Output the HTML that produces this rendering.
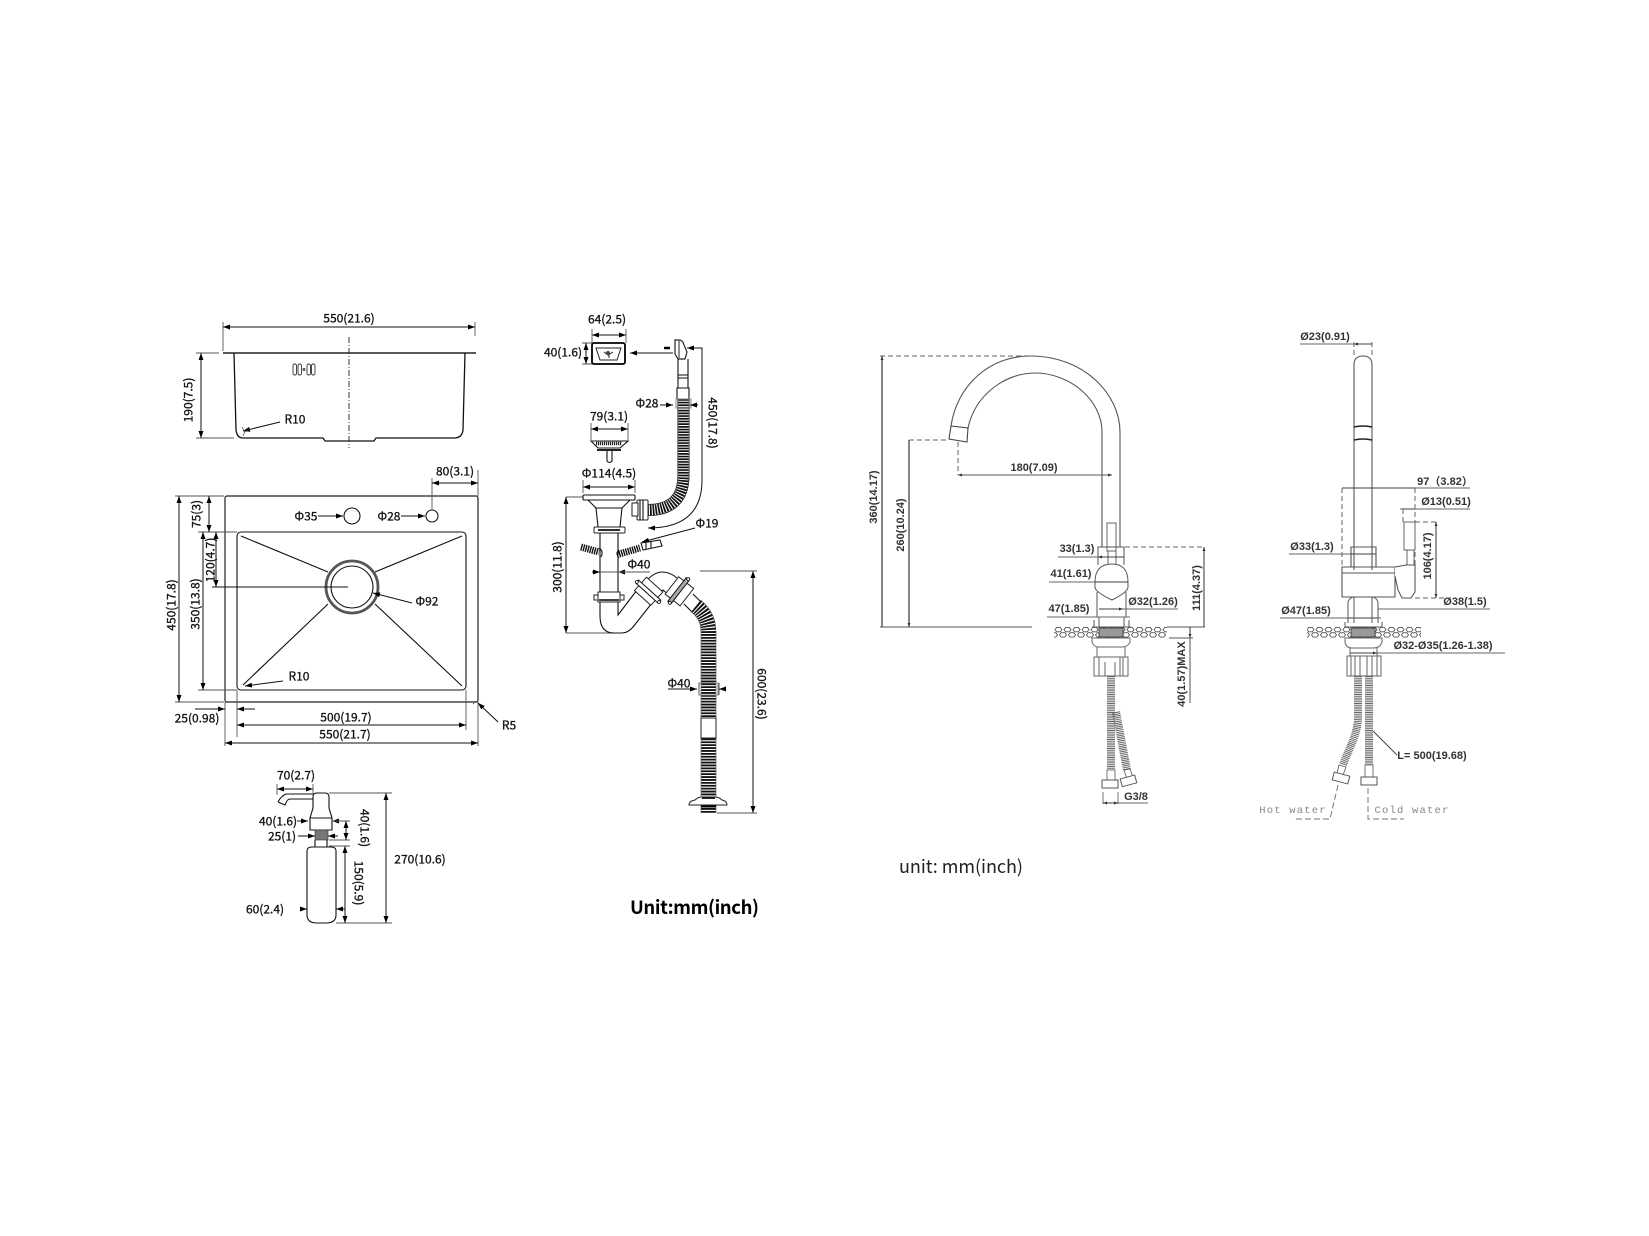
<!DOCTYPE html>
<html><head><meta charset="utf-8"><title>Sink and faucet dimensions</title>
<style>
html,body{margin:0;padding:0;background:#fff}
svg{display:block;filter:blur(.35px)}
.a text{font-family:"Noto Sans CJK SC","Liberation Sans",sans-serif;font-size:12px;fill:#111;stroke:#111;stroke-width:.3;dominant-baseline:central;text-anchor:middle}
.b text{font-family:"Liberation Sans","Noto Sans CJK SC",sans-serif;font-size:11px;font-weight:bold;fill:#333;dominant-baseline:central;text-anchor:middle}
.k{fill:none;stroke:#111;stroke-width:1.1}
.g{fill:none;stroke:#555;stroke-width:.9}
.d{fill:none;stroke:#111;stroke-width:1;marker-start:url(#ar);marker-end:url(#ar)}
.e{fill:none;stroke:#111;stroke-width:1;marker-end:url(#ar)}
.f{fill:none;stroke:#555;stroke-width:1}
.da{fill:none;stroke:#666;stroke-width:1;stroke-dasharray:5 3}
.w{fill:#fff;stroke:#222;stroke-width:1}
</style></head><body>
<svg width="1649" height="1236" viewBox="0 0 1649 1236" xmlns="http://www.w3.org/2000/svg">
<defs>
<marker id="ar" viewBox="0 0 7 5" refX="7" refY="2.5" markerWidth="7" markerHeight="5" markerUnits="userSpaceOnUse" orient="auto-start-reverse"><path d="M0 0L7 2.5L0 5Z" fill="#000"/></marker>
<marker id="as" viewBox="0 0 4 3" refX="4" refY="1.5" markerWidth="4" markerHeight="3" markerUnits="userSpaceOnUse" orient="auto-start-reverse"><path d="M0 0L4 1.5L0 3Z" fill="#333"/></marker>
<pattern id="hx" width="9" height="10.5" patternUnits="userSpaceOnUse" x="1054" y="627"><path d="M1 2.6L2.7 .4H6.300L8 2.6L6.300 4.800H2.700ZM-3.500 7.900L-1.800 5.700H1.800L3.500 7.900L1.800 10.100H-1.800ZM5.500 7.900L7.200 5.700H10.800L12.500 7.900L10.800 10.100H7.200Z" fill="none" stroke="#555" stroke-width=".9"/></pattern>
</defs>

<!-- SINK SIDE VIEW -->
<g class="a">
<path class="d" d="M223 327H475"/>
<path class="g" d="M223 322V351M475 322V336M196 353H219M196 438H234"/>
<path d="M223 353H476" fill="none" stroke="#222" stroke-width="1.6"/>
<path d="M234 353L236 430Q237 438 243 438H323L325 441H374L376 438H454Q462 438 463 430L465 353" fill="none" stroke="#111" stroke-width="1.3"/>
<path d="M349 337V448" fill="none" stroke="#333" stroke-width="1" stroke-dasharray="6 2 1 2"/>
<g fill="none" stroke="#333" stroke-width=".9"><rect x="293" y="364" width="3.5" height="11" rx="1.7"/><rect x="298" y="364" width="3.5" height="11" rx="1.7"/><circle cx="304" cy="369.5" r="1"/><rect x="307" y="364" width="3.5" height="11" rx="1.7"/><rect x="311.5" y="364" width="3.5" height="11" rx="1.7"/></g>
<path class="d" d="M201 353V438"/>
<path class="e" d="M280 422L243 431"/>
<path d="M242 427L245 432L243 436M245 432L250 429" fill="none" stroke="#444" stroke-width=".7"/>
<text x="349" y="318">550(21.6)</text>
<text transform="rotate(-90 188 400)" x="188" y="400">190(7.5)</text>
<text x="295" y="419">R10</text>

<!-- SINK TOP VIEW -->
<rect x="225" y="496" width="253" height="206" rx="2" fill="none" stroke="#222" stroke-width="1.2"/>
<rect x="237" y="532" width="229" height="158" rx="4" fill="none" stroke="#111" stroke-width="1.1"/>
<path class="k" d="M241 536L328 572M462 536L375 572M243 685L328 604M462 686L375 604"/>
<circle cx="352" cy="587" r="26" fill="none" stroke="#555" stroke-width="2.8"/>
<circle cx="352" cy="587" r="21" fill="none" stroke="#111" stroke-width="1.1"/>
<circle cx="352" cy="516" r="8" fill="none" stroke="#111" stroke-width="1.1"/>
<circle cx="432" cy="516" r="6" fill="none" stroke="#111" stroke-width="1.1"/>
<path class="e" d="M318 516H343"/><path class="e" d="M401 516H425"/>
<path class="g" d="M432 478V510M478 470V496M175 496H224M175 702H224M198 532H237M198 690H237M225 702V746M237 690V737M466 690V730M478 702V746"/>
<path d="M473 704L476 701" stroke="#555" stroke-width=".8" fill="none"/>
<path class="d" d="M432 483H478"/>
<path class="d" d="M179 496V702"/>
<path class="d" d="M209 496V532"/>
<path class="d" d="M203 532V690"/>
<path class="d" d="M216 532V587"/>
<path class="k" d="M212 587H348"/>
<path class="e" d="M412 603L373 593"/>
<path class="e" d="M283 681L245 686"/>
<path class="e" d="M498 722L478 703"/>
<path class="e" d="M195 709H225"/><path class="e" d="M255 709H237"/>
<path class="d" d="M237 725H466"/>
<path class="d" d="M225 743H478"/>
<text x="306" y="516">Φ35</text><text x="389" y="516">Φ28</text>
<text x="455" y="471">80(3.1)</text>
<text transform="rotate(-90 171 605)" x="171" y="605">450(17.8)</text>
<text transform="rotate(-90 196 514)" x="196" y="514">75(3)</text>
<text transform="rotate(-90 195 604)" x="195" y="604">350(13.8)</text>
<text transform="rotate(-90 210 560)" x="210" y="560">120(4.7)</text>
<text x="427" y="601">Φ92</text><text x="299" y="676">R10</text><text x="509" y="725">R5</text>
<text x="197" y="718">25(0.98)</text><text x="346" y="717">500(19.7)</text><text x="345" y="734">550(21.7)</text>

<!-- DISPENSER -->
<path class="k" d="M313 808V797Q313 793 317 793H325Q329 793 329 797V808L332 818H310L313 808ZM310 818V830H332V818"/>
<rect x="315" y="830" width="13" height="10" fill="#777" stroke="#333" stroke-width=".6"/>
<path class="k" d="M315 840V847M327 840V847"/>
<path class="k" d="M307 851Q307 847 312 847H331Q336 847 336 851V915Q336 923 326 923H317Q307 923 307 915Z"/>
<path class="k" d="M313 794H286Q281 796 278 802M313 799H290Q287 799 285 805L278 802"/>
<path class="d" d="M277 789H313"/><path class="g" d="M277 784V795M313 784V795"/>
<path class="e" d="M297 821H308"/><path class="e" d="M344 821H332"/>
<path class="e" d="M298 836H315"/><path class="e" d="M338 836H328"/>
<path class="g" d="M332 821H350M329 840H350M329 846H350M329 793H392M336 923H392"/>
<path class="d" d="M346 821V840"/>
<path class="d" d="M345 846V923"/>
<path class="d" d="M386 793V923"/>
<path class="e" d="M302 909H307"/><path class="e" d="M345 909H336"/>
<text x="296" y="775">70(2.7)</text><text x="278" y="821">40(1.6)</text><text x="282" y="836">25(1)</text>
<text transform="rotate(90 365 828)" x="365" y="828">40(1.6)</text>
<text transform="rotate(90 359 883)" x="359" y="883">150(5.9)</text>
<text x="420" y="859">270(10.6)</text><text x="265" y="909">60(2.4)</text>

<!-- WASTE: overflow -->
<path class="d" d="M592 335H626"/><path class="g" d="M592 329V343M626 329V343M582 343H594M582 364H594"/>
<path class="d" d="M586 343V364"/>
<rect x="592" y="343" width="33" height="21" rx="2" fill="none" stroke="#000" stroke-width="1.8"/>
<path d="M596 348H621L617 360H600Z M604 352L608 355L613 352M609 353V358" fill="none" stroke="#222" stroke-width="1"/><circle cx="608" cy="353" r="2" fill="#444"/>
<path class="e" d="M673 353H630"/><path d="M664 348H670" stroke="#000" stroke-width="2.5" fill="none"/>
<path d="M675 340H679Q683 340 684 345L687 352L685 359H678L675 354Z" fill="#fff" stroke="#222" stroke-width="1.2"/>
<path d="M679 341V358" stroke="#222" fill="none"/>
<path class="k" d="M678 359V388M688 359V388M678 375H688M678 378H688M677 388H689V399H677Z"/>
<path d="M683.5 399V475Q683.5 510 648 510" fill="none" stroke="#111" stroke-width="12"/>
<path d="M683.5 399V475Q683.5 510 648 510" fill="none" stroke="#fff" stroke-width="10.500"/>
<path d="M683.5 399V475Q683.5 510 648 510" fill="none" stroke="#111" stroke-width="10.500" stroke-dasharray="1.700 1"/>
<path d="M676 399H691V408H676Z" fill="none" stroke="#888" stroke-width="1"/>
<path class="e" d="M660 405H673"/><path class="e" d="M698 405H690"/>
<path class="d" d="M687 348H702V480Q702 528 648 528"/>
<rect x="637" y="500" width="11" height="20" rx="1" class="w"/>
<path class="k" d="M640 500V520M643 500V520"/>
<rect x="632" y="503" width="6" height="13" class="w"/>
<text x="607" y="319">64(2.5)</text><text x="563" y="352">40(1.6)</text><text x="647" y="403">Φ28</text>
<text transform="rotate(90 713 423)" x="713" y="423">450(17.8)</text>

<!-- WASTE: strainer -->
<path class="d" d="M591 429H628"/><path class="g" d="M591 423V440M628 423V440"/>
<path class="k" d="M591 441H628L620 448H598Z"/>
<path d="M596 443.500H622" stroke="#222" stroke-width="3.500" stroke-dasharray="1.200 .8" fill="none"/>
<path d="M597 450H621" stroke="#000" stroke-width="1.800" fill="none"/>
<path class="k" d="M607 451V461Q609.500 464 612 461V451"/>
<text x="609" y="416">79(3.1)</text>

<!-- WASTE: basket body + trap -->
<path class="d" d="M583 487H635"/><path class="g" d="M583 480V493M635 480V493"/>
<path class="d" d="M566 497V633"/>
<path class="g" d="M566 497H583M566 633H620"/>
<rect x="583" y="495" width="52" height="5" rx="1" fill="#fff" stroke="#111" stroke-width="1.100"/>
<path class="k" d="M588 500L596 508L598 527M630 500L622 508L620 527M595 508H622"/>
<rect x="594" y="527" width="31" height="6" rx="1" class="w"/><path d="M598 530H620" stroke="#111" stroke-width="1.800" fill="none"/>
<path class="k" d="M600 533V592M618 533V592"/>
<rect x="598" y="592" width="22" height="10" class="w"/><rect x="594" y="595" width="4" height="5" class="w"/><rect x="620" y="595" width="4" height="5" class="w"/>
<path d="M599 600H619" stroke="#222" stroke-width="1.800" fill="none"/>
<path class="k" d="M600 602V616Q600 633 614 633H622Q628 633 633 627L652 603M618 602V615L637 590"/>
<!-- side pipes -->
<path d="M581 547L599 552" fill="none" stroke="#111" stroke-width="7" stroke-dasharray="1.400 .9"/>
<path class="k" d="M599 548Q604 551 601 557"/>
<path d="M619 554L640 548" fill="none" stroke="#111" stroke-width="7" stroke-dasharray="1.400 .9"/>
<path class="k" d="M619 550Q615 553 619 558"/>
<path class="k" d="M641 543L660 540L662 546L643 550ZM646 542V549M651 541V548"/>
<path class="e" d="M695 528L642 542"/>
<!-- couplings -->
<path class="k" d="M647 580Q655 572 662 572Q670 572 677 578M656 594L663 590L670 596"/>
<g transform="translate(648 592) rotate(42)"><rect x="-11" y="-10" width="22" height="18" class="w"/><rect x="-15" y="-2.5" width="30" height="4" fill="#fff" stroke="#111"/><circle cx="-15" cy="0" r="1.500" fill="#fff" stroke="#111" stroke-width=".8"/><circle cx="15" cy="0" r="1.500" fill="#fff" stroke="#111" stroke-width=".8"/></g>
<g transform="translate(679 591) rotate(-52)"><rect x="-11" y="-9" width="22" height="19" class="w"/><rect x="-15" y="-2.5" width="30" height="4" fill="#aaa" stroke="#111"/><circle cx="-15" cy="0" r="1.500" fill="#fff" stroke="#111" stroke-width=".8"/><circle cx="15" cy="0" r="1.500" fill="#fff" stroke="#111" stroke-width=".8"/></g>
<path class="k" d="M684 604L693 613M693 594L702 603"/>
<path d="M696 606Q708.5 616 708.5 632V813" fill="none" stroke="#222" stroke-width="15.500"/>
<path d="M696 606Q708.5 616 708.5 632V813" fill="none" stroke="#fff" stroke-width="14.500"/>
<path d="M696 606Q708.5 616 708.5 632V813" fill="none" stroke="#111" stroke-width="14.500" stroke-dasharray="1.800 1.100"/>
<rect x="701" y="718" width="15" height="20" class="w"/>
<rect x="699" y="683" width="19" height="12" fill="none" stroke="#888" stroke-width="1"/>
<path d="M701 805H716" stroke="#000" stroke-width="5" fill="none"/>
<path d="M689 805Q689 801 695 800Q698 797 702 797H715Q719 797 722 800Q727 801 727 805Z" class="w"/>
<path d="M702 798H715" stroke="#111" stroke-width="1.800" fill="none"/>
<path class="e" d="M668 689H697"/><path class="e" d="M725 689H719"/>
<path class="f" d="M719 683V695M699 683V695"/>
<path class="d" d="M753 571V813"/><path class="g" d="M700 571H757M717 813H757"/>
<path class="e" d="M592 572H600"/><path class="e" d="M627 572H618"/><path class="g" d="M600 572H650"/>
<text x="639" y="564">Φ40</text><text x="679" y="683">Φ40</text>
<text transform="rotate(90 762 694)" x="762" y="694">600(23.6)</text>
<text transform="rotate(-90 557 567)" x="557" y="567">300(11.8)</text>
<text x="609" y="473">Φ114(4.5)</text><text x="707" y="523">Φ19</text>
</g>
<text x="630" y="907" style="font-family:'Noto Sans CJK SC','Liberation Sans',sans-serif;font-size:18.500px;font-weight:bold;fill:#000;dominant-baseline:central" textLength="129">Unit:mm(inch)</text>
<text x="899" y="866" style="font-family:'Noto Sans CJK SC','Liberation Sans',sans-serif;font-size:18px;fill:#222;dominant-baseline:central" textLength="124">unit: mm(inch)</text>

<!-- FAUCET FRONT -->
<g class="b">
<path class="da" d="M880 356H1030M909 440H949M958 442V475M1125 547H1205"/>
<path d="M882 356V627M909 440V627" fill="none" stroke="#222" stroke-width="1.100" marker-start="url(#as)" marker-end="url(#as)"/>
<path class="f" d="M880 627H1032M1167 627H1205M1169 638H1193"/>
<path d="M951 426C957 385 990 356 1030 356C1085 356 1120 395 1120 432V547M968 428C975 395 1005 373 1035 373C1070 373 1102 400 1102 432V547" fill="none" stroke="#555" stroke-width="1.100"/>
<path d="M951 426L968 428L967 442L949 439Z" fill="none" stroke="#444" stroke-width="1.100"/>
<path d="M958 475H1112" fill="none" stroke="#555" stroke-width="1" marker-start="url(#as)" marker-end="url(#as)"/>
<rect x="1107" y="523" width="9" height="28" fill="#fff" stroke="#666"/>
<path d="M1098 565V547H1124V565" fill="none" stroke="#555"/>
<path d="M1108 551V564M1116 551V564" fill="none" stroke="#555" stroke-width=".9"/>
<path d="M1095 582Q1095 564 1112 564Q1128 564 1128 582V587Q1128 592 1112 600Q1095 592 1095 587Z" fill="#fff" stroke="#555"/>
<path d="M1097 592V617M1126 592V617M1099 617V627M1124 617V627M1094 620V627M1129 620V627M1092 627H1131" fill="none" stroke="#555" stroke-width="1"/>
<path d="M1058 557H1124M1049 582H1128M1047 617H1130M1099 609H1178" fill="none" stroke="#666" stroke-width=".9"/>
<path d="M1098 557H1124M1095 582H1128M1099 609H1123" fill="none" stroke="#333" stroke-width=".8" marker-start="url(#as)" marker-end="url(#as)"/>
<rect x="1054" y="627" width="113" height="10.5" fill="url(#hx)"/>
<rect x="1099" y="628" width="24" height="9" fill="#999" stroke="#333" stroke-width=".8"/>
<path d="M1092 638H1130V642Q1128 647 1122 647H1098Q1094 647 1092 642ZM1097 647V657M1125 647V657" fill="none" stroke="#666" stroke-width="1"/>
<path d="M1094 657H1128V676H1094ZM1099 657V676M1105 662V676M1115 662V676M1120 657V676M1123 657V676" fill="none" stroke="#666" stroke-width="1"/>
<path d="M1116 712L1127 770" fill="none" stroke="#666" stroke-width="8" stroke-dasharray="1 .8"/>
<path d="M1111 676V770" fill="none" stroke="#666" stroke-width="8" stroke-dasharray="1 .8"/>
<path d="M1107 770H1115V780H1107ZM1124 770L1130 769L1133 777L1127 779Z" fill="#fff" stroke="#555" stroke-width=".8"/>
<rect x="1102" y="780" width="16" height="8" fill="#fff" stroke="#555"/>
<rect x="1121" y="777" width="15" height="8" fill="#fff" stroke="#555" transform="rotate(-15 1128 781)"/>
<path d="M1103 792V804M1118 792V804M1103 803H1148" fill="none" stroke="#666" stroke-width=".9"/>
<path d="M1103 803H1118" fill="none" stroke="#333" stroke-width=".8" marker-start="url(#as)" marker-end="url(#as)"/>
<path d="M1204 547V627M1190 627V638" fill="none" stroke="#333" marker-start="url(#as)" marker-end="url(#as)"/>
<path class="f" d="M1190 638V703"/>
<text transform="rotate(-90 874 497)" x="874" y="497">360(14.17)</text>
<text transform="rotate(-90 901 525)" x="901" y="525">260(10.24)</text>
<text x="1034" y="468">180(7.09)</text><text x="1077" y="549">33(1.3)</text><text x="1071" y="574">41(1.61)</text>
<text x="1069" y="609">47(1.85)</text><text x="1153" y="602">Ø32(1.26)</text>
<text transform="rotate(-90 1197 588)" x="1197" y="588">111(4.37)</text>
<text transform="rotate(-90 1182 674)" x="1182" y="674">40(1.57)MAX</text>
<text x="1136" y="797">G3/8</text>

<!-- FAUCET SIDE -->
<path d="M1300 344H1372M1289 554H1376M1280 618H1381M1378 609H1490M1350 653H1505M1342 488H1470M1400 509H1470" fill="none" stroke="#666" stroke-width=".9"/>
<path d="M1354 344H1372M1342 488H1415M1403 509H1415M1351 554H1376M1348 618H1377M1350 653H1377" fill="none" stroke="#333" stroke-width=".8" marker-start="url(#as)" marker-end="url(#as)"/>
<path class="da" d="M1354 342V355M1372 342V355M1342 488V567M1415 488V565M1403 509V522M1415 522H1436M1415 598H1445"/>
<path d="M1354 570V365Q1354 356 1363 356Q1372 356 1372 365V570" fill="none" stroke="#555" stroke-width="1.100"/>
<path d="M1354 427Q1363 425 1372 427M1354 440Q1363 438 1372 440" fill="none" stroke="#222" stroke-width="1.500"/>
<path d="M1351 567V547H1376V567M1342 567H1395V597H1342ZM1342 573H1395" fill="none" stroke="#555" stroke-width="1.100"/>
<path d="M1395 567L1406 565H1415V592L1411 598H1402L1398 590L1395 576" fill="#fff" stroke="#555" stroke-width="1.100"/>
<rect x="1404" y="522" width="11" height="28" fill="#fff" stroke="#666"/><path d="M1407 550V565M1414 550V565" fill="none" stroke="#555" stroke-width=".9"/>
<path d="M1348 623V602Q1350 597 1354 597H1372Q1376 597 1378 602V623M1354 597V623M1372 597V623" fill="none" stroke="#555" stroke-width="1"/>
<path d="M1436 522V598" fill="none" stroke="#333" marker-start="url(#as)" marker-end="url(#as)"/>
<rect x="1307" y="627" width="114" height="10.5" fill="url(#hx)"/>
<rect x="1351" y="628" width="24" height="9" fill="#999" stroke="#333" stroke-width=".8"/>
<path d="M1345 627H1382M1345 627V622M1382 627V622" fill="none" stroke="#555" stroke-width="1"/>
<path d="M1345 638H1382V642Q1380 648 1374 648H1352Q1346 648 1345 642ZM1350 648V656M1377 648V656" fill="none" stroke="#666" stroke-width="1"/>
<path d="M1347 656H1381V676H1347ZM1351 656V676M1355 656V676M1360 656V676M1367 656V676M1372 656V676M1377 656V676" fill="none" stroke="#666" stroke-width="1"/>
<path d="M1369 676V765" fill="none" stroke="#666" stroke-width="8" stroke-dasharray="1 .8"/>
<path d="M1358 676V717C1358 735 1348 750 1343 765" fill="none" stroke="#666" stroke-width="8" stroke-dasharray="1 .8"/>
<path d="M1365 765H1373V777H1365ZM1339 765L1346 767L1343 775L1337 773Z" fill="#fff" stroke="#555" stroke-width=".8"/>
<rect x="1361" y="777" width="16" height="8" fill="#fff" stroke="#555"/>
<rect x="1333" y="774" width="16" height="8" fill="#fff" stroke="#555" transform="rotate(15 1341 778)"/>
<path d="M1373 731L1397 755" fill="none" stroke="#444"/>
<path d="M1338 785L1330 819H1294M1368 788V819H1404" fill="none" stroke="#777" stroke-width="1" stroke-dasharray="6 3"/>
<text x="1325" y="337">Ø23(0.91)</text><text x="1445" y="482">97（3.82）</text><text x="1446" y="502">Ø13(0.51)</text>
<text transform="rotate(-90 1428 556)" x="1428" y="556">106(4.17)</text>
<text x="1312" y="547">Ø33(1.3)</text><text x="1306" y="611">Ø47(1.85)</text><text x="1465" y="602">Ø38(1.5)</text>
<text x="1443" y="646">Ø32-Ø35(1.26-1.38)</text><text x="1432" y="756">L= 500(19.68)</text>
<text x="1293" y="811" style="font-family:'Liberation Mono',monospace;font-size:10.5px;font-weight:normal;fill:#888;letter-spacing:1.2px">Hot water</text>
<text x="1412" y="811" style="font-family:'Liberation Mono',monospace;font-size:10.5px;font-weight:normal;fill:#888;letter-spacing:1.2px">Cold water</text>
</g>
</svg>
</body></html>
